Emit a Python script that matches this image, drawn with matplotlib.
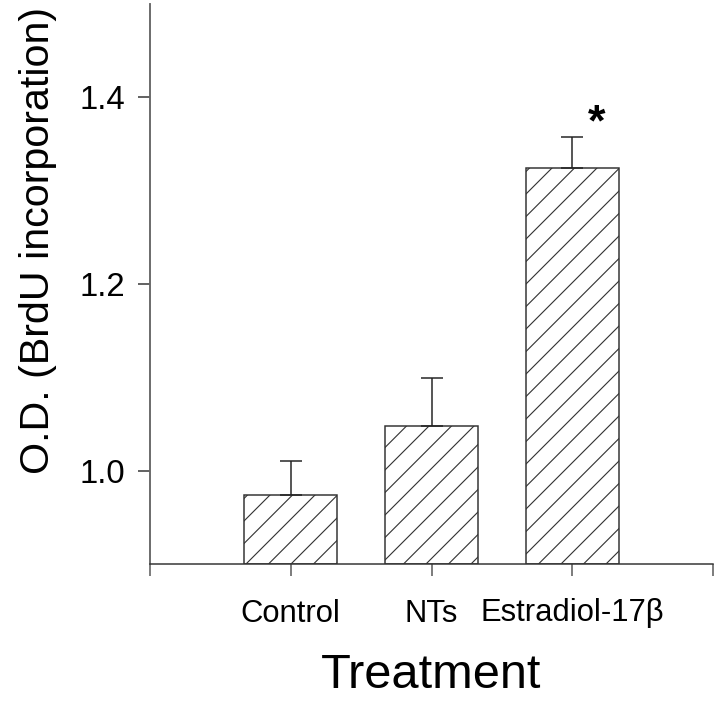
import numpy as np
import matplotlib.pyplot as plt

# Data
categories = ["Control", "NTs", "Estradiol-17\u03b2"]
positions = [1, 2, 3]
means = [0.974, 1.048, 1.324]
errors = [0.036, 0.051, 0.034]

DPI = 135
plt.rcParams['font.family'] = ['Liberation Sans', 'DejaVu Sans']
plt.rcParams['hatch.linewidth'] = 0.6
plt.rcParams['hatch.color'] = '#333333'


def main():
    fig = plt.figure(figsize=(720 / DPI, 703 / DPI), dpi=DPI)
    ax = fig.add_axes([150 / 720, 1 - 564 / 703, 563 / 720, 560 / 703])

    ax.bar(positions, np.array(means) - 0.9, bottom=0.9, width=0.66,
           color='white', edgecolor='#333333', linewidth=0.8, hatch='//',
           zorder=2)
    ax.errorbar(positions, means, yerr=[np.zeros(3), errors], fmt='none',
                ecolor='#222222', elinewidth=0.8, capsize=6, capthick=0.8,
                zorder=3)
    ax.text(3.17, 1.371, "*", fontsize=24, fontweight='bold',
            ha='center', va='center')

    ax.set_xlim(0, 4)
    ax.set_ylim(0.9, 1.5)
    ax.set_yticks([1.0, 1.2, 1.4])
    ax.set_yticklabels(["1.0", "1.2", "1.4"])
    ax.set_xticks([0, 1, 2, 3, 4])
    ax.set_xticklabels([""] + categories + [""])

    for s in ['top', 'right']:
        ax.spines[s].set_visible(False)
    ax.spines['left'].set_color('#666666')
    ax.spines['left'].set_linewidth(1.0)
    ax.spines['bottom'].set_color('#333333')
    ax.spines['bottom'].set_linewidth(0.8)

    ax.tick_params(axis='y', direction='out', length=6.4, width=0.8,
                   color='#333333', labelsize=17.5, pad=7)
    ax.tick_params(axis='x', direction='out', length=6.4, width=0.8,
                   color='#555555', labelsize=16.5, pad=12)

    ax.set_ylabel("O.D. (BrdU incorporation)", fontsize=22)
    ax.yaxis.set_label_coords(-0.165, 0.578)
    ax.set_xlabel("Treatment", fontsize=26, labelpad=13)

    fig.savefig("out.png", dpi=DPI)


if __name__ == "__main__":
    main()
